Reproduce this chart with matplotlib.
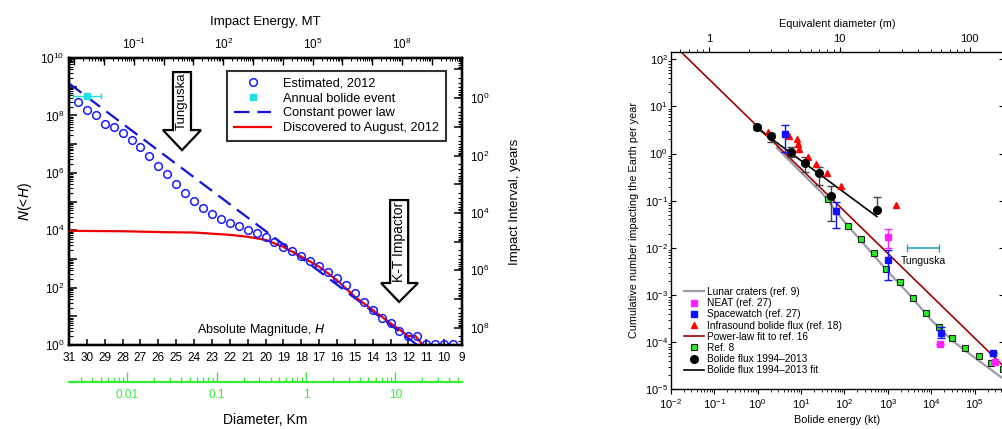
import numpy as np
import matplotlib
matplotlib.use("Agg")
import matplotlib.pyplot as plt
from matplotlib.patches import Polygon
from matplotlib.lines import Line2D
from matplotlib.ticker import LogLocator, FixedLocator, FuncFormatter, NullFormatter

plt.rcParams['font.family'] = ['Liberation Sans', 'DejaVu Sans']
plt.rcParams['mathtext.default'] = 'regular'

# ---------------- Left panel data ----------------
H_est = [30.5, 30, 29.5, 29, 28.5, 28, 27.5, 27, 26.5, 26, 25.5, 25, 24.5, 24,
         23.5, 23, 22.5, 22, 21.5, 21, 20.5, 20, 19.5, 19, 18.5, 18, 17.5, 17,
         16.5, 16, 15.5, 15, 14.5, 14, 13.5, 13, 12.5, 12, 11.5, 11, 10.5, 10, 9.5]
N_est = [3.0e8, 1.5e8, 1.02e8, 5.2e7, 4.0e7, 2.4e7, 1.38e7, 7.9e6, 4.0e6, 1.78e6,
         8.9e5, 4.2e5, 2.04e5, 1.02e5, 5.75e4, 3.55e4, 2.45e4, 1.82e4, 1.41e4,
         1.0e4, 7.8e3, 5.6e3, 4.0e3, 2.63e3, 1.9e3, 1.26e3, 850, 560, 355, 209,
         123, 63, 31, 16.6, 8.9, 5.75, 3.1, 2.04, 2.04, 1.05, 1.05, 1.05, 1.05]

H_disc = [31, 28, 25.5, 24, 22, 21, 20, 19, 18, 17, 16, 15, 14, 13, 12, 11.6, 11.2]
N_disc = [9.5e3, 9.2e3, 8.5e3, 8.3e3, 6.9e3, 5.9e3, 4.6e3, 2.63e3, 1.2e3, 537,
          182, 48, 16.6, 5.75, 2.04, 2.04, 1.0]

H_pow = [31, 11.5]
N_pow = [1.3e9, 1.0]

H_bolide = [30.0]
N_bolide = [4.9e8]
H_bolide_err = [0.8]

# ---------------- Right panel data ----------------
E_lunar = [2.8, 10, 31.6, 100, 316, 1000, 3160, 10000, 31600, 100000, 447000]
N_lunar = [1.32, 0.40, 0.141, 0.0355, 0.0107, 0.00316, 0.00102, 2.95e-4, 1.05e-4, 4.7e-5, 1.7e-5]

E_neat = [1020, 16200, 290000]
N_neat = [0.017, 9.1e-5, 3.8e-5]
N_neat_lo = [0.0098, 9.1e-5, 3.8e-5]
N_neat_hi = [0.0245, 9.1e-5, 3.8e-5]

E_spw = [4.2, 65, 1020, 17000, 270000]
N_spw = [2.6, 0.060, 0.0055, 1.6e-4, 5.8e-5]
N_spw_lo = [1.1, 0.026, 0.0021, 1.2e-4, 5.8e-5]
N_spw_hi = [4.0, 0.095, 0.0089, 2.1e-4, 5.8e-5]

E_infra = [1.78, 5.4, 7.9, 8.5, 9.1, 14.8, 21.9, 38.9, 85, 1550]
N_infra = [2.9, 2.3, 2.0, 1.58, 1.23, 0.83, 0.60, 0.38, 0.21, 0.081]

E_plaw = [0.0166, 447000]
N_plaw = [148, 3.2e-5]

E_ref8 = [41.7, 120, 240, 479, 912, 1905, 3890, 7590, 15100, 29500, 60300, 123000, 240000, 447000]
N_ref8 = [0.107, 0.0288, 0.0155, 0.0079, 0.0036, 0.00186, 8.5e-4, 4.1e-4, 2.1e-4, 1.2e-4,
          7.6e-5, 5.1e-5, 3.6e-5, 2.75e-5]

E_bol = [0.95, 2.0, 5.75, 12.3, 26.3, 49, 562]
N_bol = [3.6, 2.3, 1.1, 0.62, 0.38, 0.126, 0.062]
N_bol_lo = [3.2, 1.8, 0.85, 0.41, 0.22, 0.037, 0.062]
N_bol_hi = [4.0, 2.7, 1.4, 0.83, 0.52, 0.21, 0.12]

E_fit = [0.85, 562]
N_fit = [3.8, 0.046]

E_tung = [2800, 15100]
N_tung = 0.0098

W, Hh = 1003, 429
fig = plt.figure(figsize=(W / 100, Hh / 100), dpi=100)

def pow_fmt(step, offset=0):
    def f(v, pos):
        if v <= 0:
            return ''
        e = int(round(np.log10(v)))
        if abs(np.log10(v) - e) > 1e-6:
            return ''
        return f'$10^{{{e}}}$' if (e - offset) % step == 0 else ''
    return FuncFormatter(f)

# ================= LEFT PANEL =================
axL = fig.add_axes([69 / W, 1 - 345 / Hh, 393 / W, 287 / Hh])
axL.set_yscale('log')
axL.set_xlim(31, 9)
axL.set_ylim(1, 1e10)

axL.plot(H_pow, N_pow, ls=(0, (7, 3.5)), color='#1010e0', lw=1.6, zorder=3)
axL.plot(H_disc, N_disc, color='#ee0000', lw=1.6, zorder=4)
axL.plot(H_est, N_est, 'o', mfc='none', mec='#1a1aff', mew=1.1, ms=5.5, zorder=5, clip_on=True)
axL.errorbar(H_bolide, N_bolide, xerr=H_bolide_err, fmt='s', color='#22e0e0',
             ms=5, capsize=2.5, elinewidth=1.0, zorder=6)

axL.xaxis.set_major_locator(FixedLocator(list(range(9, 32))))
axL.xaxis.set_major_formatter(FuncFormatter(lambda v, p: f'{int(round(v))}'))
axL.tick_params(axis='x', direction='in', length=4, width=1.1, labelsize=8.5, pad=5, top=False)
axL.yaxis.set_major_locator(LogLocator(base=10, numticks=20))
axL.yaxis.set_minor_locator(LogLocator(base=10, subs=np.arange(2, 10), numticks=20))
axL.yaxis.set_major_formatter(pow_fmt(2))
axL.yaxis.set_minor_formatter(NullFormatter())
axL.tick_params(axis='y', which='major', direction='in', length=6, width=1.1, labelsize=8.5, right=False)
axL.tick_params(axis='y', which='minor', direction='in', length=3, width=0.8, right=False)
for s in axL.spines.values():
    s.set_linewidth(1.6)
axL.set_ylabel(r'$\it{N}$(<$\it{H}$)', fontsize=10, labelpad=4)

axL.text(0.489, 0.052, r'Absolute Magnitude, $\it{H}$', transform=axL.transAxes,
         ha='center', va='center', fontsize=9)

# arrows
def draw_arrow(ax, x0, x1, top, base, hl, hr, tip, label, ty, fs):
    xm = 0.5 * (x0 + x1)
    pts = [(x0, top), (x1, top), (x1, base), (hr, base), (xm, tip), (hl, base), (x0, base)]
    ax.add_patch(Polygon(pts, closed=True, transform=ax.transAxes, facecolor='white',
                         edgecolor='black', lw=1.6, zorder=7))
    ax.text(xm, ty, label, transform=ax.transAxes, rotation=90, ha='center', va='center',
            fontsize=fs, zorder=8)

draw_arrow(axL, 0.2646, 0.3104, 0.951, 0.749, 0.239, 0.336, 0.679, 'Tunguska', 0.848, 9.5)
draw_arrow(axL, 0.817, 0.863, 0.505, 0.216, 0.794, 0.888, 0.150, 'K-T Impactor', 0.36, 10)

handlesL = [
    Line2D([], [], ls='none', marker='o', mfc='none', mec='#1a1aff', mew=1.1, ms=5.5),
    Line2D([], [], ls='none', marker='s', color='#22e0e0', ms=5),
    Line2D([], [], ls=(0, (7, 3.5)), color='#1010e0', lw=1.6),
    Line2D([], [], color='#ee0000', lw=1.6),
]
labelsL = ['Estimated, 2012', 'Annual bolide event', 'Constant power law', 'Discovered to August, 2012']
legL = axL.legend(handlesL, labelsL, loc='upper left', bbox_to_anchor=(0.402, 0.955),
                  bbox_transform=axL.transAxes, fontsize=9.2, frameon=True, fancybox=False,
                  edgecolor='black', handlelength=2.9, handletextpad=0.9, labelspacing=0.21,
                  borderpad=0.55, borderaxespad=0)
legL.get_frame().set_linewidth(1.5)
legL.set_zorder(9)

# top energy axis
axT = axL.twiny()
axT.set_xscale('log')
axT.set_xlim(10 ** -3.18, 10 ** 10.02)
axT.xaxis.set_major_locator(LogLocator(base=10, numticks=30))
axT.xaxis.set_minor_locator(LogLocator(base=10, subs=np.arange(2, 10), numticks=30))
axT.xaxis.set_major_formatter(pow_fmt(3, -1))
axT.xaxis.set_minor_formatter(NullFormatter())
axT.tick_params(axis='x', which='major', direction='in', length=5, width=1.0, labelsize=8.5, pad=4)
axT.tick_params(axis='x', which='minor', direction='in', length=2.5, width=0.7)
axT.set_xlabel('Impact Energy, MT', fontsize=9.5, labelpad=9)
for s in axT.spines.values():
    s.set_linewidth(1.6)

# right interval axis
axR = axL.twinx()
axR.set_yscale('log')
axR.set_ylim(10 ** 8.6, 10 ** -1.4)
axR.yaxis.set_major_locator(LogLocator(base=10, numticks=20))
axR.yaxis.set_minor_locator(LogLocator(base=10, subs=np.arange(2, 10), numticks=20))
axR.yaxis.set_major_formatter(pow_fmt(2))
axR.yaxis.set_minor_formatter(NullFormatter())
axR.tick_params(axis='y', which='major', direction='in', length=6, width=1.1, labelsize=8.5, pad=6)
axR.tick_params(axis='y', which='minor', direction='in', length=3, width=0.8)
axR.set_ylabel('Impact Interval, years', fontsize=9.5, labelpad=14)
for s in axR.spines.values():
    s.set_linewidth(1.6)

# green diameter axis
def H_to_D(h):
    return 10 ** ((17.73 - h) / 5.0)

axD = fig.add_axes([69 / W, 1 - 382 / Hh, 393 / W, 0.0001])
axD.set_xscale('log')
axD.set_xlim(H_to_D(31), H_to_D(9))
axD.patch.set_visible(False)
axD.yaxis.set_visible(False)
for k in ['top', 'left', 'right']:
    axD.spines[k].set_visible(False)
axD.spines['bottom'].set_color('#33ee33')
axD.spines['bottom'].set_linewidth(1.6)
axD.xaxis.set_major_locator(FixedLocator([0.01, 0.1, 1, 10]))
axD.xaxis.set_major_formatter(FuncFormatter(lambda v, p: f'{v:g}'))
axD.xaxis.set_minor_locator(LogLocator(base=10, subs=np.arange(2, 10), numticks=30))
axD.xaxis.set_minor_formatter(NullFormatter())
axD.tick_params(axis='x', which='major', direction='in', length=7, width=1.0,
                colors='#33ee33', labelsize=8.5, pad=5)
axD.tick_params(axis='x', which='minor', direction='in', length=3.5, width=0.9, colors='#33ee33')
fig.text(265 / W, 1 - 420 / Hh, 'Diameter, Km', ha='center', va='center', fontsize=10)

# ================= RIGHT PANEL =================
axP = fig.add_axes([670.7 / W, 1 - 389.3 / Hh, 333.0 / W, 337.6 / Hh])
axP.set_xscale('log')
axP.set_yscale('log')
axP.set_xlim(0.01, 10 ** 5.67)
axP.set_ylim(1e-5, 10 ** 2.16)

axP.plot(E_lunar, N_lunar, color='#9b9bab', lw=1.6, zorder=2)
axP.plot(E_plaw, N_plaw, color='#a00000', lw=1.2, zorder=3)
axP.plot(E_ref8, N_ref8, 's', mfc='#22ee22', mec='#222222', mew=0.8, ms=4.6, ls='none', zorder=4)
axP.plot(E_fit, N_fit, color='black', lw=1.2, zorder=5)
axP.errorbar(E_bol, N_bol,
             yerr=[np.array(N_bol) - np.array(N_bol_lo), np.array(N_bol_hi) - np.array(N_bol)],
             fmt='o', color='black', ecolor='#444444', ms=5.5, capsize=3, elinewidth=1.0, zorder=6)
axP.plot(E_infra, N_infra, '^', color='#ff0000', ms=5, ls='none', zorder=6)
axP.errorbar(E_neat, N_neat,
             yerr=[np.array(N_neat) - np.array(N_neat_lo), np.array(N_neat_hi) - np.array(N_neat)],
             fmt='s', color='#ff22ff', ms=4.6, capsize=3, elinewidth=1.0, zorder=6)
axP.errorbar(E_spw, N_spw,
             yerr=[np.array(N_spw) - np.array(N_spw_lo), np.array(N_spw_hi) - np.array(N_spw)],
             fmt='s', color='#1111ff', ms=4.6, capsize=3, elinewidth=1.0, zorder=7)
tc = np.sqrt(E_tung[0] * E_tung[1])
axP.errorbar([tc], [N_tung], xerr=[[tc - E_tung[0]], [E_tung[1] - tc]], fmt='none',
             ecolor='#2aa0b8', capsize=3, elinewidth=1.2, zorder=6)
axP.text(10 ** 3.81, 10 ** -2.28, 'Tunguska', ha='center', va='center', fontsize=7.5)

axP.xaxis.set_major_locator(LogLocator(base=10, numticks=20))
axP.xaxis.set_minor_locator(LogLocator(base=10, subs=np.arange(2, 10), numticks=20))
axP.xaxis.set_major_formatter(pow_fmt(1))
axP.xaxis.set_minor_formatter(NullFormatter())
axP.yaxis.set_major_locator(LogLocator(base=10, numticks=20))
axP.yaxis.set_minor_locator(LogLocator(base=10, subs=np.arange(2, 10), numticks=20))
axP.yaxis.set_major_formatter(pow_fmt(1))
axP.yaxis.set_minor_formatter(NullFormatter())
axP.tick_params(axis='both', which='major', direction='out', length=3.5, width=0.8, labelsize=8, pad=2)
axP.tick_params(axis='both', which='minor', direction='out', length=2, width=0.6)
axP.tick_params(axis='y', which='major', right=True, direction='in')
axP.spines['right'].set_visible(False)
axP.spines['top'].set_visible(False)
for k in ['left', 'bottom']:
    axP.spines[k].set_linewidth(1.0)
axP.set_xlabel('Bolide energy (kt)', fontsize=7.8, labelpad=3)
axP.set_ylabel('Cumulative number impacting the Earth per year', fontsize=7.8, labelpad=4)

def E_to_D(e):
    return 10 ** ((np.log10(e) + 1.11) / 3.0)

axQ = axP.twiny()
axQ.set_xscale('log')
axQ.set_xlim(E_to_D(0.01), E_to_D(10 ** 5.67))
axQ.xaxis.set_major_locator(FixedLocator([1, 10, 100]))
axQ.xaxis.set_major_formatter(FuncFormatter(lambda v, p: f'{v:g}'))
axQ.xaxis.set_minor_locator(LogLocator(base=10, subs=np.arange(2, 10), numticks=20))
axQ.xaxis.set_minor_formatter(NullFormatter())
axQ.tick_params(axis='x', which='major', direction='out', length=3.5, width=0.8, labelsize=8, pad=2)
axQ.tick_params(axis='x', which='minor', direction='out', length=2, width=0.6)
axQ.spines['right'].set_visible(False)
axQ.spines['left'].set_visible(False)
axQ.spines['bottom'].set_visible(False)
axQ.spines['top'].set_linewidth(1.0)
axQ.set_xlabel('Equivalent diameter (m)', fontsize=7.8, labelpad=5)

handlesP = [
    Line2D([], [], color='#9b9bab', lw=1.6),
    Line2D([], [], ls='none', marker='s', color='#ff22ff', ms=4.6),
    Line2D([], [], ls='none', marker='s', color='#1111ff', ms=4.6),
    Line2D([], [], ls='none', marker='^', color='#ff0000', ms=5),
    Line2D([], [], color='#a00000', lw=1.2),
    Line2D([], [], ls='none', marker='s', mfc='#22ee22', mec='#222222', mew=0.8, ms=4.6),
    Line2D([], [], ls='none', marker='o', color='black', ms=5.5),
    Line2D([], [], color='black', lw=1.2),
]
labelsP = ['Lunar craters (ref. 9)', 'NEAT (ref. 27)', 'Spacewatch (ref. 27)',
           'Infrasound bolide flux (ref. 18)', 'Power-law fit to ref. 16', 'Ref. 8',
           'Bolide flux 1994\u20132013', 'Bolide flux 1994\u20132013 fit']
axP.legend(handlesP, labelsP, loc='lower left', bbox_to_anchor=(0.035, 0.035),
           bbox_transform=axP.transAxes, fontsize=7.3, frameon=False, handlelength=1.9,
           handletextpad=0.35, labelspacing=0.12, borderpad=0.2, borderaxespad=0)

fig.savefig('out.png', dpi=100)
